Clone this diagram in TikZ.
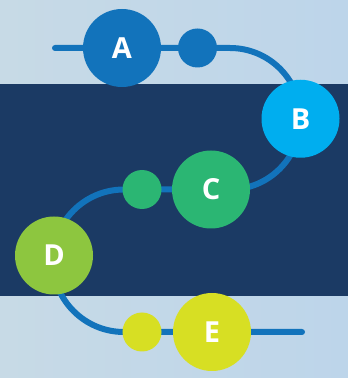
\documentclass[tikz,border=0pt]{standalone}
\usepackage{fontspec}
\setsansfont{Open Sans}
\usetikzlibrary{backgrounds}
\definecolor{skyleft}{HTML}{C7DAE6}
\definecolor{skyright}{HTML}{BDD5EA}
\definecolor{band}{HTML}{1B3A64}
\definecolor{route}{HTML}{1273BB}
\definecolor{stepa}{HTML}{1273BB}
\definecolor{stepb}{HTML}{00AEEF}
\definecolor{stepc}{HTML}{2BB673}
\definecolor{stepd}{HTML}{8DC63F}
\definecolor{stepe}{HTML}{D7DF23}
\tikzset{
  bigstop/.style={circle,minimum size=78pt,inner sep=0pt,text=white,
    font=\sffamily\bfseries\fontsize{29}{29}\selectfont},
  smallstop/.style={circle,minimum size=39pt,inner sep=0pt},
  routeline/.style={route,line width=6pt,line cap=round}
}
\begin{document}
\begin{tikzpicture}[x=1pt,y=1pt]
      \useasboundingbox (0,0) rectangle (348,378);
      \draw
        (122,330) node[bigstop,fill=stepa] (a){A}
        (197.5,330) node[smallstop,fill=stepa] (a1){}
        (300.5,259.25) node[bigstop,fill=stepb] (b){B}
        (211,188.5) node[bigstop,fill=stepc] (c){C}
        (142,188.5) node[smallstop,fill=stepc] (c1){}
        (54,122.5) node[bigstop,fill=stepd] (d){D}
        (142,46) node[smallstop,fill=stepe] (e1){}
        (212,46) node[bigstop,fill=stepe] (e){E};
      \coordinate (start) at (55,330);
      \coordinate (bend1) at (230,330);
      \coordinate (bend2) at (124,188.5);
      \coordinate (stop) at (302,46);
      \begin{scope}[on background layer]
        \fill[left color=skyleft,right color=skyright] (0,0) rectangle (348,378);
        \fill[band] (0,82) rectangle (348,294);
        \draw[routeline] (start) -- (a.center) -- (a1.center) -- (bend1)
          arc[start angle=90,end angle=0,radius=70.75] -- (b.center)
          arc[start angle=0,end angle=-90,radius=70.75] -- (c.center)
          -- (c1.center) -- (bend2)
          arc[start angle=90,end angle=270,radius=71.25] -- (e1.center)
          -- (e.center) -- (stop);
      \end{scope}
    \end{tikzpicture}
\end{document}
